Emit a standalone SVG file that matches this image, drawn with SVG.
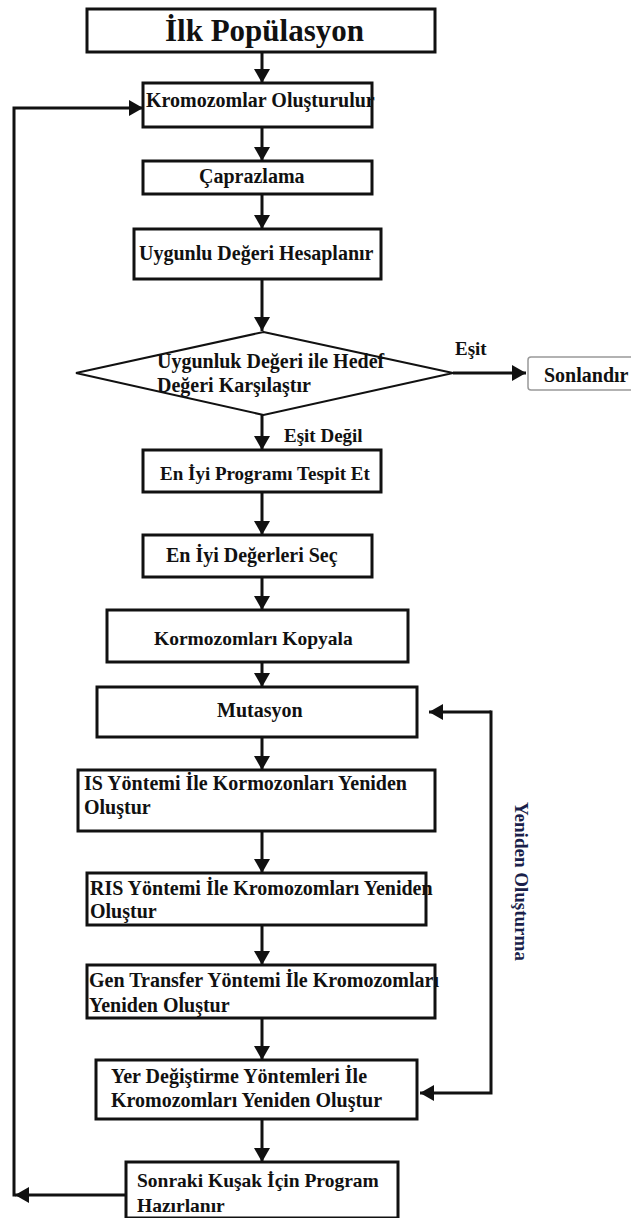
<svg xmlns="http://www.w3.org/2000/svg" width="631" height="1218" viewBox="0 0 631 1218">
<style>
.box{fill:#fff;stroke:#111;stroke-width:3}
.t{font-family:"Liberation Serif","Times New Roman",serif;font-weight:bold;font-size:20px;fill:#111}
.lbl{font-family:"Liberation Serif","Times New Roman",serif;font-weight:bold;font-size:19px;fill:#111}
.c{fill:none;stroke:#111;stroke-width:3}
</style>
<defs>
<marker id="ah" viewBox="0 0 14 16" refX="14" refY="8" markerWidth="14" markerHeight="16" markerUnits="userSpaceOnUse" orient="auto">
<path d="M0,0 L14,8 L0,16 z" fill="#111"/>
</marker>
</defs>
<rect width="631" height="1218" fill="#fff"/>
<g id="connectors">
<path class="c" d="M262,52 L262,83" marker-end="url(#ah)"/>
<path class="c" d="M262,127 L262,161" marker-end="url(#ah)"/>
<path class="c" d="M262,194 L262,229" marker-end="url(#ah)"/>
<path class="c" d="M262,279 L262,331" marker-end="url(#ah)"/>
<path class="c" d="M453,373 L526,373" marker-end="url(#ah)"/>
<path class="c" d="M262,415 L262,450" marker-end="url(#ah)"/>
<path class="c" d="M262,492 L262,535" marker-end="url(#ah)"/>
<path class="c" d="M262,577 L262,610" marker-end="url(#ah)"/>
<path class="c" d="M262,662 L262,687" marker-end="url(#ah)"/>
<path class="c" d="M262,737 L262,770" marker-end="url(#ah)"/>
<path class="c" d="M262,831 L262,873" marker-end="url(#ah)"/>
<path class="c" d="M262,925 L262,965" marker-end="url(#ah)"/>
<path class="c" d="M262,1018 L262,1060" marker-end="url(#ah)"/>
<path class="c" d="M262,1119 L262,1162" marker-end="url(#ah)"/>
<path class="c" d="M491,712 L429,712" marker-end="url(#ah)"/>
<path class="c" d="M491,710.5 L491,1093 L420,1093" marker-end="url(#ah)"/>
<path class="c" d="M126,1195 L15,1195" marker-end="url(#ah)"/>
<path class="c" d="M14,1196.5 L14,108 L143,108" marker-end="url(#ah)"/>
<text class="lbl" x="455" y="355">Eşit</text>
<text class="lbl" x="284" y="442">Eşit Değil</text>
<text class="lbl" transform="translate(515,802) rotate(90)" style="fill:#1a1f4a">Yeniden Oluşturma</text>
</g>
<g id="n1"><rect class="box" x="87" y="9" width="348" height="43"/><text class="t" x="165" y="41" style="font-size:31px">İlk Popülasyon</text></g>
<g id="n2"><rect class="box" x="143" y="83" width="229" height="44"/><text class="t" x="146" y="107">Kromozomlar Oluşturulur</text></g>
<g id="n3"><rect class="box" x="143" y="161" width="229" height="33"/><text class="t" x="199" y="183">Çaprazlama</text></g>
<g id="n4"><rect class="box" x="134" y="229" width="247" height="50"/><text class="t" x="139" y="260">Uygunlu Değeri Hesaplanır</text></g>
<g id="n5"><polygon points="263.5,332 453,373 263.5,415 76,373" fill="#fff" stroke="#111" stroke-width="2"/><text class="t" x="157" y="368">Uygunluk Değeri ile Hedef</text><text class="t" x="157" y="392">Değeri Karşılaştır</text></g>
<g id="n6"><rect x="528" y="357" width="110" height="33" rx="3" fill="#fff" stroke="#999" stroke-width="1.5"/><text class="t" x="544" y="382">Sonlandır</text></g>
<g id="n7"><rect class="box" x="143" y="450" width="238" height="42"/><text class="t" x="160" y="480" style="font-size:19px">En İyi Programı Tespit Et</text></g>
<g id="n8"><rect class="box" x="143" y="535" width="229" height="42"/><text class="t" x="166" y="562">En İyi Değerleri Seç</text></g>
<g id="n9"><rect class="box" x="107" y="610" width="301" height="52"/><text class="t" x="154" y="645" style="font-size:19.5px">Kormozomları Kopyala</text></g>
<g id="n10"><rect class="box" x="97" y="687" width="320" height="50"/><text class="t" x="217" y="717">Mutasyon</text></g>
<g id="n11"><rect class="box" x="78" y="770" width="357" height="61"/><text class="t" x="84" y="790">IS Yöntemi İle Kormozonları Yeniden</text><text class="t" x="84" y="814">Oluştur</text></g>
<g id="n12"><rect class="box" x="87" y="873" width="339" height="52"/><text class="t" x="90" y="895">RIS Yöntemi İle Kromozomları Yeniden</text><text class="t" x="90" y="918">Oluştur</text></g>
<g id="n13"><rect class="box" x="87" y="965" width="348" height="53"/><text class="t" x="89" y="987">Gen Transfer Yöntemi İle Kromozomları</text><text class="t" x="89" y="1012">Yeniden Oluştur</text></g>
<g id="n14"><rect class="box" x="96" y="1060" width="321" height="59"/><text class="t" x="111" y="1083">Yer Değiştirme Yöntemleri İle</text><text class="t" x="111" y="1107">Kromozomları Yeniden Oluştur</text></g>
<g id="n15"><rect class="box" x="126" y="1162" width="272" height="56"/><text class="t" x="137" y="1187" style="font-size:19.5px">Sonraki Kuşak İçin Program</text><text class="t" x="137" y="1212" style="font-size:19.5px">Hazırlanır</text></g>
</svg>
